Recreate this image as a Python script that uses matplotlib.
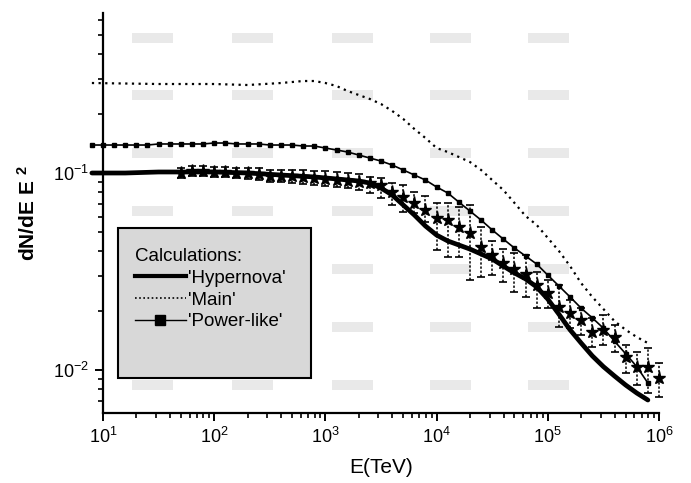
import numpy as np
import matplotlib.pyplot as plt
from matplotlib.lines import Line2D
from matplotlib.patches import Rectangle
from matplotlib.ticker import LogLocator, FixedLocator, FixedFormatter, NullFormatter

OUTPUT_FILE = "out.png"

# energies are given as log10(E / TeV)
HYPERNOVA_LOG_E = [0.9, 1.2, 1.5, 1.7, 2.0, 2.3, 2.6, 2.9, 3.1, 3.3,
                   3.4, 3.5, 3.6, 3.7, 3.8, 3.9, 4.0, 4.1, 4.2, 4.3, 4.4, 4.5, 4.6,
                   4.7, 4.8, 4.9, 5.0, 5.1, 5.2, 5.3, 5.4, 5.5, 5.6, 5.7, 5.8, 5.9]
HYPERNOVA = [0.1000, 0.1000, 0.1012, 0.1012, 0.1012, 0.1000, 0.0977, 0.0955, 0.0933, 0.0911,
             0.0889, 0.0839, 0.0774, 0.0688, 0.0612, 0.0538, 0.0484, 0.0452, 0.0431, 0.0411,
             0.0388, 0.0366, 0.0337, 0.0311, 0.0290, 0.0264, 0.0229, 0.0192, 0.0160, 0.0137,
             0.0118, 0.0104, 0.00932, 0.00839, 0.00764, 0.00704]

MAIN_LOG_E = [0.9, 1.5, 2.0, 2.3, 2.6, 2.8,
              2.9, 3.0, 3.1, 3.2, 3.3, 3.4, 3.5, 3.6, 3.7, 3.8, 3.9, 4.0, 4.1, 4.2, 4.3,
              4.4, 4.5, 4.6, 4.7, 4.8, 4.9, 5.0, 5.1, 5.2, 5.3, 5.4, 5.5, 5.6, 5.7, 5.8, 5.9]
MAIN = [0.2863, 0.2830, 0.2830, 0.2797, 0.2863, 0.2931,
        0.2931, 0.2863, 0.2764, 0.2608, 0.2488, 0.2375, 0.2240, 0.2066, 0.1881, 0.1673,
        0.1505, 0.1339, 0.1278, 0.1206, 0.1137, 0.1036, 0.0921, 0.0820, 0.0705, 0.0605,
        0.0545, 0.0468, 0.0402, 0.0337, 0.0276, 0.0235, 0.0204, 0.0177, 0.0160, 0.0147, 0.0137]

POWER_LOG_E = [0.9, 1.0, 1.1, 1.2, 1.3, 1.4, 1.5, 1.6, 1.7, 1.8, 1.9,
               2.0, 2.1, 2.2, 2.3, 2.4, 2.5, 2.6, 2.7, 2.8, 2.9,
               3.0, 3.1, 3.2, 3.3, 3.4, 3.5, 3.6, 3.7, 3.8, 3.9,
               4.0, 4.1, 4.2, 4.3, 4.4, 4.5, 4.6, 4.7, 4.8, 4.9,
               5.0, 5.1, 5.2, 5.3, 5.4, 5.5, 5.6, 5.7, 5.8, 5.9]
POWER = [0.1387, 0.1387, 0.1387, 0.1387, 0.1387, 0.1387, 0.1404, 0.1404, 0.1404, 0.1404, 0.1404,
         0.1420, 0.1420, 0.1404, 0.1404, 0.1404, 0.1387, 0.1387, 0.1387, 0.1371, 0.1371,
         0.1339, 0.1309, 0.1278, 0.1234, 0.1191, 0.1150, 0.1098, 0.1036, 0.0977, 0.0921,
         0.0849, 0.0792, 0.0712, 0.0641, 0.0577, 0.0514, 0.0462, 0.0416, 0.0379, 0.0345,
         0.0303, 0.0267, 0.0235, 0.0206, 0.0184, 0.0163, 0.0140, 0.0121, 0.0104, 0.00859]

DATA_LOG_E = [1.7, 1.8, 1.9, 2.0, 2.1, 2.2, 2.3, 2.4, 2.5, 2.6, 2.7, 2.8, 2.9,
              3.0, 3.1, 3.2, 3.3, 3.4, 3.5, 3.6, 3.7, 3.8, 3.9,
              4.0, 4.1, 4.2, 4.3, 4.4, 4.5, 4.6, 4.7, 4.8, 4.9,
              5.0, 5.1, 5.2, 5.3, 5.4, 5.5, 5.6, 5.7, 5.8, 5.9, 6.0]
DATA = [0.1000, 0.1023, 0.1023, 0.1012, 0.1012, 0.1000, 0.1000, 0.0989, 0.0966, 0.0966,
        0.0966, 0.0955, 0.0944, 0.0933, 0.0921, 0.0911, 0.0900,
        0.0889, 0.0869, 0.0802, 0.0755, 0.0705, 0.0649, 0.0592, 0.0577, 0.0532, 0.0495,
        0.0421, 0.0384, 0.0349, 0.0326, 0.0307, 0.0270, 0.0246, 0.0209, 0.0195, 0.0179,
        0.0156, 0.0160, 0.0147, 0.0116, 0.0104, 0.0104, 0.0091]
DATA_HI = [0.1060, 0.1085, 0.1085, 0.1073, 0.1073, 0.1060, 0.1060, 0.1060, 0.1035, 0.1035,
           0.1035, 0.1035, 0.1023, 0.1023, 0.1012, 0.1000, 0.0989,
           0.0955, 0.0944, 0.0889, 0.0869, 0.0802, 0.0764, 0.0705, 0.0705, 0.0672, 0.0688,
           0.0532, 0.0452, 0.0411, 0.0393, 0.0384, 0.0315, 0.0286, 0.0270, 0.0227, 0.0206,
           0.0184, 0.0190, 0.0169, 0.0134, 0.0123, 0.0129, 0.0109]
DATA_LO = [0.0944, 0.0966, 0.0966, 0.0955, 0.0955, 0.0944, 0.0933, 0.0921, 0.0900, 0.0900,
           0.0889, 0.0879, 0.0869, 0.0859, 0.0849, 0.0839, 0.0820,
           0.0792, 0.0746, 0.0688, 0.0634, 0.0627, 0.0564, 0.0407, 0.0375, 0.0375, 0.0286,
           0.0297, 0.0304, 0.0280, 0.0249, 0.0235, 0.0206, 0.0206, 0.0165, 0.0163, 0.0151,
           0.0131, 0.0134, 0.0123, 0.00966, 0.00839, 0.00764, 0.00730]

LEGEND_LABELS = ["'Hypernova'", "'Main'", "'Power-like'"]
X_TICKS = [1e1, 1e2, 1e3, 1e4, 1e5, 1e6]
X_TICK_LABELS = ["$10^{1}$", "$10^{2}$", "$10^{3}$", "$10^{4}$", "$10^{5}$", "$10^{6}$"]
Y_TICKS = [1e-2, 1e-1]
Y_TICK_LABELS = ["$10^{-2}$", "$10^{-1}$"]

W, H = 691, 483
AX_LEFT, AX_RIGHT, AX_TOP, AX_BOTTOM = 103, 659, 13, 413


def px_to_axes(x, y):
    return ((x - AX_LEFT) / (AX_RIGHT - AX_LEFT), (AX_BOTTOM - y) / (AX_BOTTOM - AX_TOP))


def main():
    plt.rcParams["font.family"] = ["Liberation Sans", "DejaVu Sans"]
    plt.rcParams["mathtext.fontset"] = "custom"
    plt.rcParams["mathtext.rm"] = "Liberation Sans"
    plt.rcParams["mathtext.it"] = "Liberation Sans:italic"
    plt.rcParams["mathtext.bf"] = "Liberation Sans:bold"

    fig = plt.figure(figsize=(W / 100, H / 100), dpi=100)
    ax = fig.add_axes([AX_LEFT / W, 1 - AX_BOTTOM / H,
                       (AX_RIGHT - AX_LEFT) / W, (AX_BOTTOM - AX_TOP) / H])

    # faint halftone patches from the scanned page
    for px in [132, 232, 332, 430, 528]:
        for py in [33, 90, 148, 206, 264, 322, 380]:
            x0, y0 = px_to_axes(px, py + 10)
            ax.add_patch(Rectangle((x0, y0), 41 / 556, 10 / 400, transform=ax.transAxes,
                                   facecolor="#e9e9e9", edgecolor="none", zorder=0))

    hyp_e = [10 ** v for v in HYPERNOVA_LOG_E]
    main_e = [10 ** v for v in MAIN_LOG_E]
    pow_e = [10 ** v for v in POWER_LOG_E]
    dat_e = [10 ** v for v in DATA_LOG_E]

    ax.plot(hyp_e, HYPERNOVA, color="black", linewidth=3.4, solid_capstyle="round",
            clip_on=False, zorder=3)
    ax.plot(main_e, MAIN, color="black", linewidth=1.6, linestyle=(0, (1, 2.0)),
            clip_on=False, zorder=3)
    ax.plot(pow_e, POWER, color="black", linewidth=1.2, marker="s", markersize=3.2,
            clip_on=False, zorder=3)

    data = np.array(DATA)
    yerr = [data - np.array(DATA_LO), np.array(DATA_HI) - data]
    eb = ax.errorbar(dat_e, DATA, yerr=yerr, fmt="*", color="black", markersize=9.5,
                     elinewidth=1.1, capsize=3, capthick=1.2, clip_on=False, zorder=4)
    for bar in eb[2]:
        bar.set_linestyle((0, (1.5, 1.2)))

    ax.set_xscale("log")
    ax.set_yscale("log")
    ax.set_xlim(1e1, 1e6)
    ax.set_ylim(0.00605, 0.649)

    ax.xaxis.set_major_locator(FixedLocator(X_TICKS))
    ax.xaxis.set_major_formatter(FixedFormatter(X_TICK_LABELS))
    ax.yaxis.set_major_locator(FixedLocator(Y_TICKS))
    ax.yaxis.set_major_formatter(FixedFormatter(Y_TICK_LABELS))
    ax.xaxis.set_minor_locator(LogLocator(base=10, subs=np.arange(2, 10), numticks=20))
    ax.yaxis.set_minor_locator(LogLocator(base=10, subs=np.arange(2, 10), numticks=20))
    ax.xaxis.set_minor_formatter(NullFormatter())
    ax.yaxis.set_minor_formatter(NullFormatter())

    for side in ["top", "right"]:
        ax.spines[side].set_visible(False)
    for side in ["left", "bottom"]:
        ax.spines[side].set_linewidth(1.6)
    ax.tick_params(which="major", direction="out", length=6, width=1.4, labelsize=13, pad=4)
    ax.tick_params(which="minor", direction="out", length=3.5, width=1.2)
    ax.patch.set_visible(False)

    ax.set_xlabel("E(TeV)", fontsize=15, labelpad=8)
    ax.set_ylabel("dN/dE E $^{\\mathbf{2}}$", fontsize=15, fontweight="bold", labelpad=10)

    # legend box
    bx0, by0 = px_to_axes(118, 378)
    bx1, by1 = px_to_axes(311, 228)
    ax.add_patch(Rectangle((bx0, by0), bx1 - bx0, by1 - by0, transform=ax.transAxes,
                           facecolor="#d8d8d8", edgecolor="black", linewidth=1.5, zorder=5))

    handles = [
        Line2D([], [], color="black", linewidth=3.0),
        Line2D([], [], color="black", linewidth=1.2, linestyle=(0, (1, 1.5))),
        Line2D([], [], color="black", linewidth=1.0, marker="s", markersize=6.5),
    ]
    lx, ly = px_to_axes(135, 248)
    leg = ax.legend(handles, LEGEND_LABELS, title="Calculations:", loc="upper left",
                    bbox_to_anchor=(lx, ly), frameon=False, fontsize=13.5,
                    title_fontsize=13.5, alignment="left", borderpad=0, borderaxespad=0,
                    handlelength=2.7, handletextpad=0.15, labelspacing=0.25)
    leg.set_zorder(6)

    fig.savefig(OUTPUT_FILE, dpi=100)


if __name__ == "__main__":
    main()
